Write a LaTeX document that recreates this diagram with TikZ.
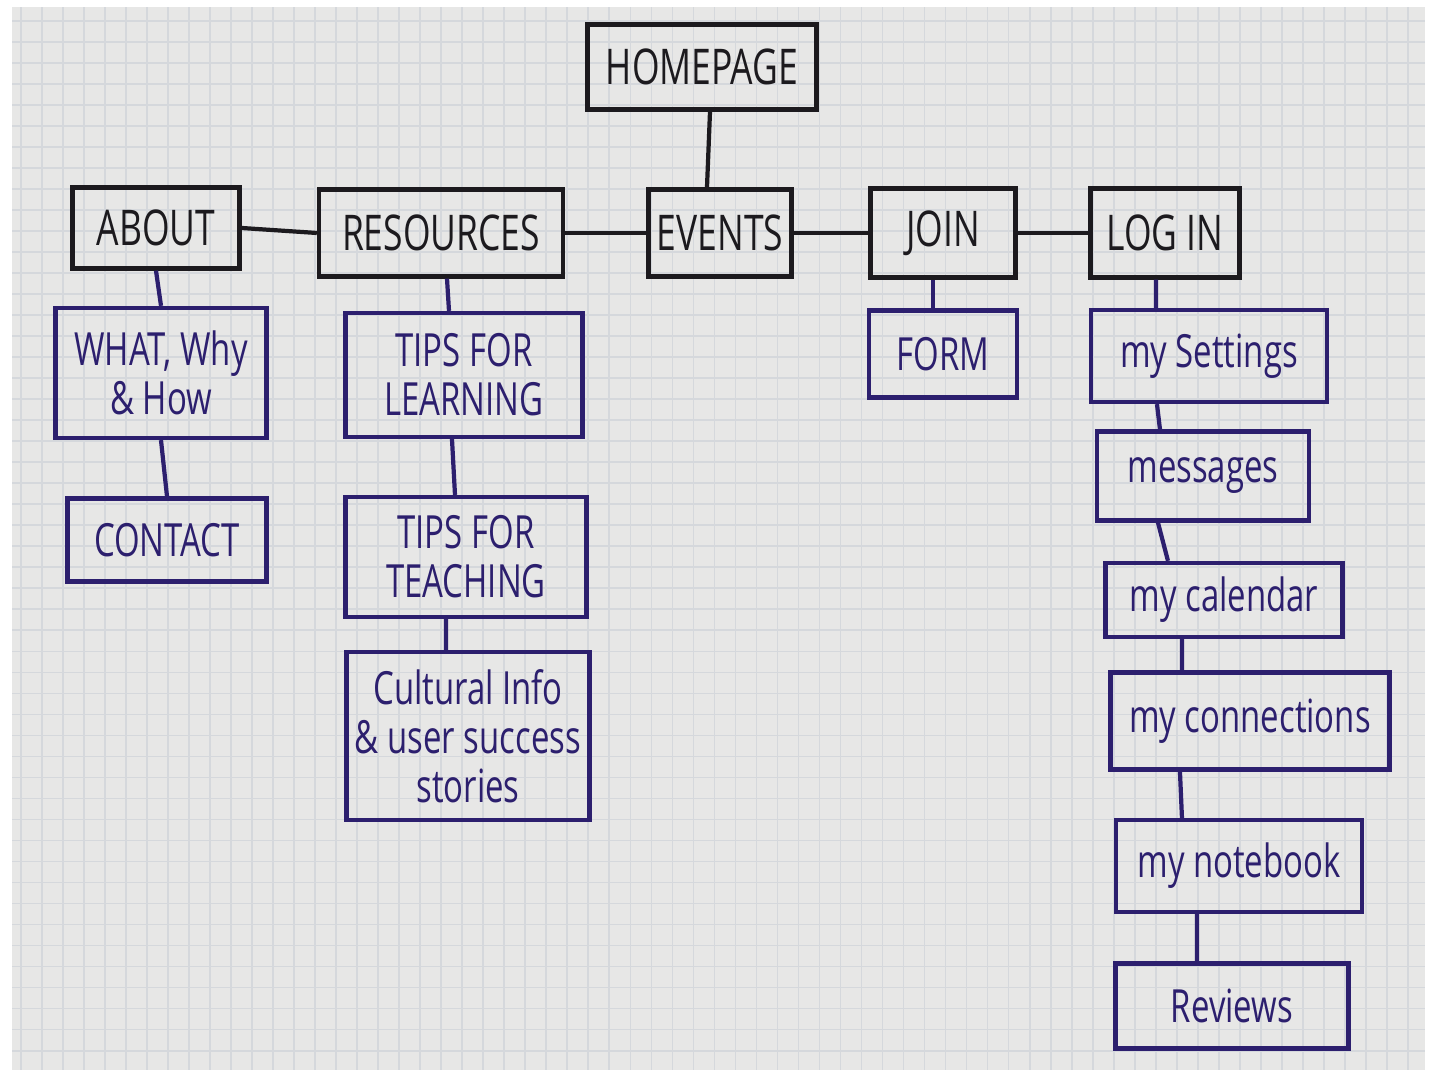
\documentclass[tikz,border=0pt]{standalone}
\usepackage{fontspec}
\newfontfamily\handfont[FakeStretch=0.72]{Open Sans}
\definecolor{paper}{HTML}{E7E7E6}
\definecolor{gridblue}{HTML}{D5D8DC}
\definecolor{inkblack}{HTML}{1C1A1E}
\definecolor{inkpurple}{HTML}{2C1F6E}
\tikzset{
  box/.style={draw, line width=1.2pt, inner sep=0pt, align=center},
  topbox/.style={box, draw=inkblack, text=inkblack, font=\handfont\fontsize{14}{15}\selectfont},
  subbox/.style={box, draw=inkpurple, text=inkpurple, font=\handfont\fontsize{13}{14}\selectfont},
  topline/.style={draw=inkblack, line width=1.2pt},
  subline/.style={draw=inkpurple, line width=1.2pt}
}
\begin{document}
\begin{tikzpicture}[x=0.01cm, y=-0.01cm]
    \useasboundingbox [fill=white] (0,0) rectangle (1432,1077);
    \fill [paper] (12,7) rectangle (1425,1070);
    \draw [gridblue, line width=0.5pt, step=0.21cm] (12,7) grid (1425,1070);

    \node(home)     [topbox, minimum width=2.29cm, minimum height=0.85cm] at (702,67)   {HOMEPAGE};
    \node(about)    [topbox, minimum width=1.67cm, minimum height=0.81cm] at (156,228)  {ABOUT};
    \node(res)      [topbox, minimum width=2.44cm, minimum height=0.87cm] at (441,233)  {RESOURCES};
    \node(events)   [topbox, minimum width=1.43cm, minimum height=0.87cm] at (720,233)  {EVENTS};
    \node(join)     [topbox, minimum width=1.45cm, minimum height=0.89cm] at (943,233)  {JOIN};
    \node(login)    [topbox, minimum width=1.49cm, minimum height=0.89cm] at (1165,233) {LOG IN};

    \node(what)     [subbox, minimum width=2.11cm, minimum height=1.30cm] at (161,373)  {WHAT, Why\\\& How};
    \node(contact)  [subbox, minimum width=1.99cm, minimum height=0.83cm] at (167,540)  {CONTACT};
    \node(learn)    [subbox, minimum width=2.37cm, minimum height=1.24cm] at (464,375)  {TIPS FOR\\LEARNING};
    \node(teach)    [subbox, minimum width=2.41cm, minimum height=1.20cm] at (466,557)  {TIPS FOR\\TEACHING};
    \node(culture)  [subbox, minimum width=2.43cm, minimum height=1.68cm] at (468,736)  {Cultural Info\\\& user success\\stories};
    \node(form)     [subbox, minimum width=1.48cm, minimum height=0.87cm] at (943,354)  {FORM};
    \node(settings) [subbox, minimum width=2.36cm, minimum height=0.92cm] at (1209,356) {my Settings};
    \node(msgs)     [subbox, minimum width=2.12cm, minimum height=0.89cm] at (1203,476) {messages};
    \node(cal)      [subbox, minimum width=2.37cm, minimum height=0.74cm] at (1224,600) {my calendar};
    \node(conn)     [subbox, minimum width=2.79cm, minimum height=0.97cm] at (1250,721) {my connections};
    \node(note)     [subbox, minimum width=2.46cm, minimum height=0.92cm] at (1239,866) {my notebook};
    \node(rev)      [subbox, minimum width=2.33cm, minimum height=0.85cm] at (1232,1006) {Reviews};

    \draw [topline] ([xshift=0.08cm]home.south) to ([xshift=-0.13cm]events.north);
    \draw [topline] (about.east) to (res.west);
    \draw [topline] (res.east) to (events.west);
    \draw [topline] (events.east) to (join.west);
    \draw [topline] (join.east) to (login.west);

    \draw [subline] (about.south) to (what.north);
    \draw [subline] (what.south) to (contact.north);
    \draw [subline] ([xshift=0.06cm]res.south) to ([xshift=-0.15cm]learn.north);
    \draw [subline] ([xshift=-0.12cm]learn.south) to ([xshift=-0.11cm]teach.north);
    \draw [subline] ([xshift=-0.20cm]teach.south) to ([xshift=-0.22cm]culture.north);
    \draw [subline] ([xshift=-0.10cm]join.south) to ([xshift=-0.10cm]form.north);
    \draw [subline] ([xshift=-0.09cm]login.south) to ([xshift=-0.53cm]settings.north);
    \draw [subline] ([xshift=-0.52cm]settings.south) to ([xshift=-0.43cm]msgs.north);
    \draw [subline] ([xshift=-0.45cm]msgs.south) to ([xshift=-0.56cm]cal.north);
    \draw [subline] ([xshift=-0.42cm]cal.south) to ([xshift=-0.68cm]conn.north);
    \draw [subline] ([xshift=-0.70cm]conn.south) to ([xshift=-0.57cm]note.north);
    \draw [subline] ([xshift=-0.42cm]note.south) to ([xshift=-0.35cm]rev.north);

  \end{tikzpicture}
\end{document}
